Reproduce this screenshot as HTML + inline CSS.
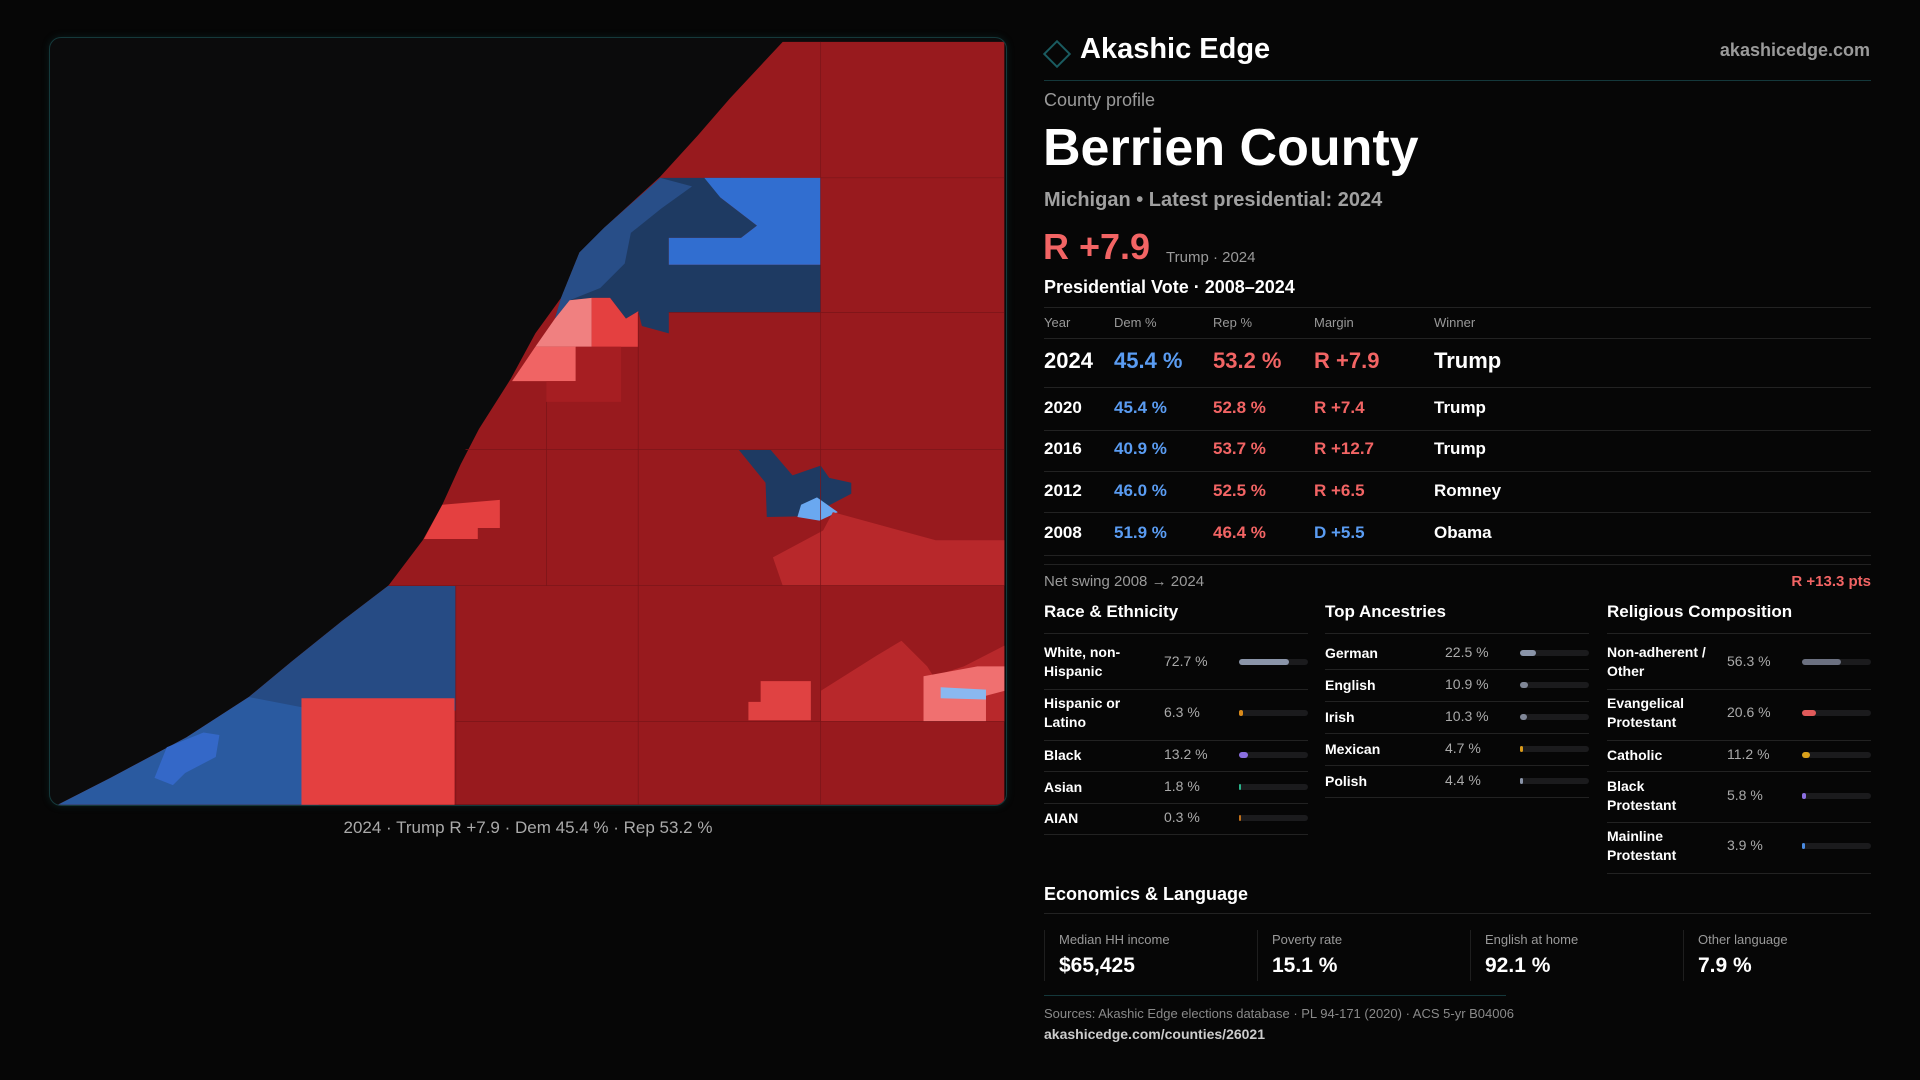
<!DOCTYPE html>
<html><head><meta charset="utf-8">
<style>
*{margin:0;padding:0;box-sizing:border-box}
body{width:1920px;height:1080px;background:#060606;position:relative;overflow:hidden;font-family:"Liberation Sans",sans-serif;color:#fff}
.a{position:absolute;white-space:nowrap}
.g{color:#9a9a9a}
.hl{position:absolute;height:1px;background:#222}
.red{color:#f26464}.blue{color:#5a9cf2}
</style></head><body>
<div class="a" style="left:49px;top:37px;width:958px;height:769px;border:1px solid #15393b;border-radius:12px;background:#0b0b0c;overflow:hidden;box-shadow:0 0 8px rgba(20,80,80,.3)">
<svg width="958" height="769" viewBox="40 30 782 628" style="position:absolute;left:-1px;top:-1px">
<polygon fill="#981a1e" points="639,34 820,34 820,657 47,657 90,635 152,602 203,569 238,540 279,507 317,478 345,441 361,412 376,379 391,350 417,309 437,272 458,243 473,206 493,186 539,144 570,110 596,80"/>
<polygon fill="#1e3a62" points="539,145 605,145 588,161 618,184 605,194 546,194 546,216 670,216 670,255 546,255 546,272 524,266 521,254 511,260 498,243 483,243 465,245 453,260 458,243 473,206 493,186"/>
<polygon fill="#284e88" points="539,145 565,152 540,170 515,190 510,215 490,235 465,245 453,260 458,243 473,206 493,186"/>
<polygon fill="#316ed0" points="575,145 670,145 670,216 546,216 546,194 605,194 618,184 588,161"/>
<polygon fill="#f08080" points="465,245 483,243 483,283 437,283 453,260"/>
<polygon fill="#e44040" points="483,243 498,243 511,260 521,254 521,283 483,283"/>
<polygon fill="#f06464" points="437,283 470,283 470,311 418,311"/>
<polygon fill="#a61e22" points="470,283 507,283 507,328 446,328 446,311 470,311"/>
<polygon fill="#e44040" points="361,412 408,408 408,431 390,431 390,440 346,440"/>
<polygon fill="#1e3a62" points="603,367 629,367 647,388 670,380 677,390 695,394 695,403 672,415 682,421 626,422 625,394"/>
<polygon fill="#6aa8f0" points="654,412 667,406 684,418 669,425 651,422"/>
<polygon fill="#b8282b" points="672,433 680,418 764,441 820,441 820,478 639,478 631,455"/>
<polygon fill="#264b84" points="317,478 372,478 372,580 203,580 203,569 238,540 279,507"/>
<polygon fill="#2a5aa0" points="203,569 260,580 260,657 47,657 90,635 152,602"/>
<polygon fill="#3468c8" points="126,635 136,610 166,598 179,600 176,618 151,631 141,641"/>
<polygon fill="#e44040" points="246,570 371,570 371,657 246,657"/>
<polygon fill="#b8282b" points="670,564 716,535 736,523 757,544 762,552 787,544 820,527 820,589 670,589"/>
<polygon fill="#f07070" points="754,552 798,544 820,544 820,564 805,568 805,589 754,589"/>
<polygon fill="#8ab8f0" points="768,561 805,563 805,571 768,570"/>
<polygon fill="#e04242" points="621,556 662,556 662,588 611,588 611,573 621,573"/>
<g stroke="#7a1418" stroke-width="0.6" fill="none">
<line x1="670" y1="34" x2="670" y2="657"/><line x1="521" y1="255" x2="521" y2="657"/><line x1="446" y1="328" x2="446" y2="478"/><line x1="372" y1="478" x2="372" y2="657"/>
<line x1="670" y1="145" x2="820" y2="145"/><line x1="546" y1="255" x2="820" y2="255"/><line x1="380" y1="367" x2="820" y2="367"/><line x1="317" y1="478" x2="820" y2="478"/><line x1="372" y1="589" x2="820" y2="589"/>
</g>
</svg>
</div>
<div class="a g" style="left:0;width:1056px;text-align:center;top:818px;font-size:17px;color:#aaa">2024 · Trump R +7.9 · Dem 45.4 % · Rep 53.2 %</div>

<div class="a" style="left:1047px;top:44px;width:20px;height:20px;border:2px solid #1a5b60;transform:rotate(45deg)"></div>
<div class="a" style="left:1080px;top:33px;font-size:29px;font-weight:bold">Akashic Edge</div>
<div class="a g" style="right:50px;top:40px;font-size:18px;font-weight:bold;color:#9a9a9a">akashicedge.com</div>
<div class="hl" style="left:1044px;width:827px;top:80px;background:#14383b"></div>
<div class="a g" style="left:1044px;top:90px;font-size:18px">County profile</div>
<div class="a" style="left:1043px;top:118px;font-size:52px;font-weight:bold">Berrien County</div>
<div class="a g" style="left:1044px;top:189px;font-size:20px;font-weight:bold;color:#a0a0a0">Michigan • Latest presidential: 2024</div>
<div class="a red" style="left:1043px;top:226px;font-size:36px;font-weight:bold">R +7.9</div>
<div class="a g" style="left:1166px;top:249px;font-size:15px">Trump · 2024</div>
<div class="a" style="left:1044px;top:277px;font-size:18px;font-weight:bold">Presidential Vote · 2008–2024</div>
<div id="vote"></div>
<div class="hl" style="left:1044px;width:827px;top:564px"></div>
<div class="a g" style="left:1044px;top:573px;font-size:15px">Net swing 2008 → 2024</div>
<div class="a red" style="right:49px;top:573px;font-size:15px;font-weight:bold">R +13.3 pts</div>
<div id="demo"></div>
<div class="a" style="left:1044px;top:884px;font-size:18px;font-weight:bold">Economics &amp; Language</div>
<div class="hl" style="left:1044px;width:827px;top:913px"></div>
<div id="econ"></div>
<div class="hl" style="left:1044px;width:462px;top:995px;background:#14383b"></div>
<div class="a g" style="left:1044px;top:1006px;font-size:13px;color:#8a8a8a">Sources: Akashic Edge elections database · PL 94-171 (2020) · ACS 5-yr B04006</div>
<div class="a" style="left:1044px;top:1026px;font-size:14px;font-weight:bold;color:#ccc">akashicedge.com/counties/26021</div>
<script>
const years=["2024","2020","2016","2012","2008"];
const demPct=[45.4,45.4,40.9,46.0,51.9];
const repPct=[53.2,52.8,53.7,52.5,46.4];
const margins=["R +7.9","R +7.4","R +12.7","R +6.5","D +5.5"];
const winners=["Trump","Trump","Trump","Romney","Obama"];
const raceLabels=["White, non-<br>Hispanic","Hispanic or<br>Latino","Black","Asian","AIAN"];
const raceValues=[72.7,6.3,13.2,1.8,0.3];
const ancLabels=["German","English","Irish","Mexican","Polish"];
const ancValues=[22.5,10.9,10.3,4.7,4.4];
const relLabels=["Non-adherent /<br>Other","Evangelical<br>Protestant","Catholic","Black<br>Protestant","Mainline<br>Protestant"];
const relValues=[56.3,20.6,11.2,5.8,3.9];
const econLabels=["Median HH income","Poverty rate","English at home","Other language"];
const econValues=["$65,425","15.1 %","92.1 %","7.9 %"];

function mk(parent,html,style,name){const d=document.createElement('div');d.className='a';d.innerHTML=html;d.style.cssText=style;


parent.appendChild(d);return d;}
function line(parent,x,y,w,name){const d=document.createElement('div');d.className='hl';d.style.cssText=`left:${x}px;top:${y}px;width:${w}px`;


parent.appendChild(d);}

const vote=document.getElementById('vote');
line(vote,1044,307,827,'table-top-rule');
const hx=[1044,1114,1213,1314,1434],hn=["Year","Dem %","Rep %","Margin","Winner"];
hn.forEach((h,i)=>mk(vote,h,`left:${hx[i]}px;top:315px;font-size:13px;color:#999`,'col-header'));
line(vote,1044,338,827,'header-rule');
const rowY=[361,408,449,491,533],ruleY=[387,430,471,512,555];
years.forEach((y,i)=>{
  const big=i===0, fs=big?22:17, t=rowY[i]-fs*0.6;
  const mt=margins[i];const isR=mt.charAt(0)==='R';
  mk(vote,y,`left:1044px;top:${t}px;font-size:${fs}px;font-weight:bold`,'row-year');
  mk(vote,demPct[i].toFixed(1)+" %",`left:1114px;top:${t}px;font-size:${fs}px;font-weight:bold;color:#5a9cf2`,'row-dem');
  mk(vote,repPct[i].toFixed(1)+" %",`left:1213px;top:${t}px;font-size:${fs}px;font-weight:bold;color:#f26464`,'row-rep');
  mk(vote,mt,`left:1314px;top:${t}px;font-size:${fs}px;font-weight:bold;color:${isR?'#f26464':'#5a9cf2'}`,'row-margin');
  mk(vote,winners[i],`left:1434px;top:${t}px;font-size:${fs}px;font-weight:bold`,'row-winner');
  line(vote,1044,ruleY[i],827,'row-rule');
});

const demo=document.getElementById('demo');
function section(title,x,labels,values,centers,rules,colors,name){
  mk(demo,title,`left:${x}px;top:602px;font-size:17px;font-weight:bold`,name+'-title');
  line(demo,x,633,264,name+'-title-rule');
  labels.forEach((l,i)=>{
    const c=centers[i];const two=l.includes('<br>');
    mk(demo,l,`left:${x}px;top:${c-(two?19:9)}px;font-size:14px;font-weight:bold;line-height:19px`,name+'-label');
    mk(demo,values[i].toFixed(1)+" %",`left:${x+120}px;top:${c-9}px;font-size:14px;color:#aaa`,name+'-value');
    const tr=mk(demo,'',`left:${x+195}px;top:${c-3}px;width:69px;height:6px;border-radius:3px;background:#1b1b1d`,name+'-bar-track');
    mk(tr,'',`left:0;top:0;height:6px;border-radius:3px;width:${Math.max(2,values[i]/100*69)}px;background:${colors[i]}`,name+'-bar');
    line(demo,x,rules[i],264,name+'-rule');
  });
}
section("Race & Ethnicity",1044,raceLabels,raceValues,[662,713,755,787,818],[689,740,771,803,834],["#8a94a8","#d98a1a","#8b6fe0","#2ab38a","#c0701a"],'race');
section("Top Ancestries",1325,ancLabels,ancValues,[653,685,717,749,781],[669,701,733,765,797],["#8a94a8","#7f8696","#7f8696","#d99a1a","#8a94a8"],'ancestry');
section("Religious Composition",1607,relLabels,relValues,[662,713,755,796,846],[689,740,771,822,873],["#6b7080","#e05a5a","#d9a01a","#8b6fe0","#4a8ae0"],'religion');

const econ=document.getElementById('econ');
econLabels.forEach((l,i)=>{
  const x=1044+i*213;
  mk(econ,'',`left:${x}px;top:930px;width:1px;height:51px;background:#1e1e1e`,'econ-divider');
  mk(econ,l,`left:${x+15}px;top:932px;font-size:13px;color:#999`,'econ-label');
  mk(econ,econValues[i],`left:${x+15}px;top:954px;font-size:21px;font-weight:bold`,'econ-value');
});
</script>
</body></html>
